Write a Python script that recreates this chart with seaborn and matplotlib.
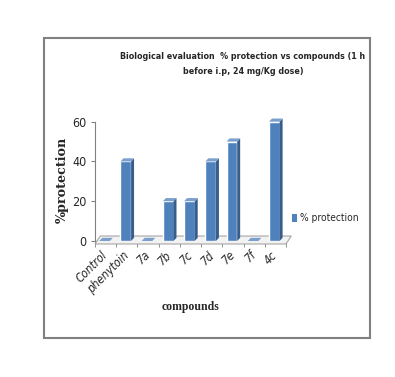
import matplotlib
matplotlib.use("Agg")
import matplotlib.pyplot as plt
import seaborn as sns
import pandas as pd
from matplotlib.patches import Polygon, Rectangle

categories = ["Control", "phenytoin", "7a", "7b", "7c", "7d", "7e", "7f", "4c"]
protection = [0, 40, 0, 20, 20, 40, 50, 0, 60]
series_name = "% protection"
title = "Biological evaluation  % protection vs compounds (1 h\nbefore i.p, 24 mg/Kg dose)"
y_ticks = [0, 20, 40, 60]

df = pd.DataFrame({"compound": categories, "value": protection})

sns.set_style("white")
plt.rcParams["font.family"] = ["DejaVu Sans"]
plt.rcParams["font.stretch"] = "condensed"

fig = plt.figure(figsize=(3.95, 3.77), dpi=100)
ax = fig.add_axes([95 / 395, 136 / 377, 191 / 395, 119.3 / 377])

face = "#4F81BD"
side = "#385D8A"
top = "#7BA0CD"
sns.barplot(data=df, x="compound", y="value", color=face, width=0.5,
            saturation=1, ax=ax, zorder=3)

dx, dy = 0.14, 1.6
for p in ax.patches:
    x0, w, h = p.get_x(), p.get_width(), p.get_height()
    p.set_x(x0 - 0.05)
    x0 = p.get_x()
    ax.add_patch(Polygon([[x0 + w, 0], [x0 + w + dx, dy], [x0 + w + dx, h + dy], [x0 + w, h]],
                         closed=True, facecolor=side, edgecolor="none", zorder=3, clip_on=False))
    ax.add_patch(Polygon([[x0, h], [x0 + dx, h + dy], [x0 + w + dx, h + dy], [x0 + w, h]],
                         closed=True, facecolor=top, edgecolor="none", zorder=3, clip_on=False))

# floor
ax.add_patch(Polygon([[-0.5, -1.5], [8.5, -1.5], [8.5 + 0.25, 2.5], [-0.5 + 0.25, 2.5]],
                     closed=True, facecolor="#F2F2F2", edgecolor="#A6A6A6", lw=0.8,
                     zorder=1, clip_on=False))

ax.set_xlim(-0.5, 8.5)
ax.set_ylim(0, 60)
ax.set_yticks(y_ticks)
ax.set_yticklabels([str(t) for t in y_ticks], fontsize=9)
ax.tick_params(axis="y", length=3, color="#808080", pad=3, left=True)
ax.set_xticks(range(len(categories)))
ax.set_xticklabels(categories, rotation=45, ha="right", va="center",
                   rotation_mode="anchor", fontsize=8.5, fontstyle="italic")
ax.tick_params(axis="x", length=0, pad=9)
ax.set_xticks([i - 0.5 for i in range(len(categories) + 1)], minor=True)
ax.tick_params(axis="x", which="minor", length=4, color="#808080", bottom=True)
for s in ["top", "right"]:
    ax.spines[s].set_visible(False)
ax.spines["bottom"].set_visible(False)
ax.spines["left"].set_color("#808080")
ax.spines["left"].set_linewidth(0.8)

serif = ["DejaVu Serif"]
ax.set_ylabel("%protection", fontsize=9.2, fontweight="bold", family=serif,
              fontstretch="normal")
ax.yaxis.set_label_coords(-0.135, 0.51)
ax.set_xlabel("compounds", fontsize=8.5, fontweight="bold",
              family=["Liberation Serif", "DejaVu Serif"],
              fontstretch="normal", labelpad=4)

fig.text(243 / 395, 1 - 64 / 377, title, ha="center", va="center", fontsize=6.4,
         fontweight="bold", linespacing=1.75)

# legend
fig.patches.append(Rectangle((292 / 395, 1 - 222 / 377), 5 / 395, 8 / 377,
                             transform=fig.transFigure, facecolor=face, edgecolor="none"))
fig.text(300 / 395, 1 - 218 / 377, series_name, ha="left", va="center", fontsize=7.3)

# outer frame
fig.patches.append(Rectangle((44 / 395, 1 - 338 / 377), 326 / 395, 300 / 377,
                             transform=fig.transFigure, facecolor="none",
                             edgecolor="#808080", lw=1.5))

fig.savefig("out.png", dpi=100)
